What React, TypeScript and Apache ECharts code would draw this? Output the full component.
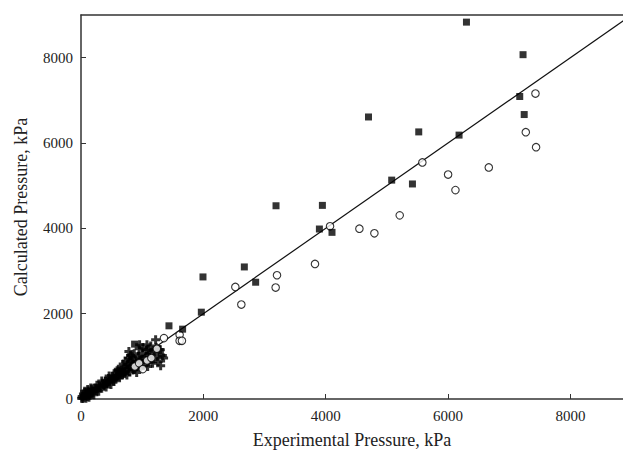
import React, { useEffect, useRef } from "react";
import * as echarts from "echarts";

const xTicks = [0, 2000, 4000, 6000, 8000];
const xMax = 8860;
const yMax = 9000;

// filled squares [experimental, calculated]
const squares: number[][] = [
  [876, 1286], [1438, 1715], [1661, 1637], [1967, 2035], [1994, 2861],
  [2670, 3095], [2855, 2737], [3188, 4529], [3897, 3984], [3946, 4538],
  [4103, 3906], [4700, 6610], [5079, 5130], [5418, 5040], [5521, 6260],
  [6180, 6185], [6301, 8833], [7172, 7090], [7226, 8070], [7245, 6667],
];

// open circles
const circles: number[][] = [
  [880, 760], [950, 840], [1010, 700], [1080, 900], [1150, 960], [1240, 1180],
  [1356, 1427], [1612, 1504], [1612, 1364], [1650, 1364],
  [2523, 2627], [2621, 2213], [3182, 2611], [3204, 2900], [3825, 3165],
  [4071, 4047], [4551, 3991], [4796, 3883], [5210, 4304], [5580, 5544],
  [6001, 5260], [6121, 4896], [6666, 5427], [7271, 6253], [7429, 7158],
  [7439, 5902],
];

// plus signs
const pluses: number[][] = [
  [10, 20], [20, 60], [30, 10], [40, 120], [50, 40], [60, 180], [70, 90],
  [80, 20], [90, 140], [100, 60], [110, 220], [120, 110], [130, 40],
  [140, 160], [150, 90], [160, 260], [170, 230], [180, 140], [200, 180],
  [210, 100], [230, 260], [250, 200], [260, 320], [270, 240], [290, 180],
  [300, 310], [320, 260], [340, 420], [350, 370], [370, 300], [380, 330],
  [400, 420], [410, 280], [420, 360], [440, 400], [450, 480], [460, 540],
  [470, 410], [490, 340], [500, 460], [520, 540], [530, 420], [540, 480],
  [560, 600], [570, 460], [580, 520], [590, 660], [600, 560], [610, 700],
  [620, 650], [630, 500], [640, 580], [660, 700], [670, 560], [680, 620],
  [690, 820], [700, 740], [710, 600], [720, 640], [730, 880], [740, 700],
  [750, 560], [760, 800], [770, 960], [780, 720], [783, 1114], [790, 640],
  [800, 860], [810, 1020], [820, 760], [827, 919], [840, 980], [850, 680],
  [860, 800], [870, 1060], [880, 700], [900, 880], [910, 620], [920, 760],
  [940, 1000], [950, 1180], [958, 919], [958, 1270], [970, 740], [980, 900],
  [1000, 1060], [1010, 1200], [1020, 780], [1040, 920], [1060, 1000],
  [1070, 1140], [1078, 1270], [1090, 760], [1100, 860], [1100, 1160],
  [1120, 980], [1140, 1240], [1150, 1060], [1170, 840], [1180, 940],
  [1200, 1120], [1220, 1387], [1230, 1200], [1250, 1000], [1260, 880],
  [1280, 1160], [1297, 1153], [1302, 779], [1330, 1020], [1350, 960],
];

const diagonal: number[][] = [[0, 0], [yMax, yMax]];

const plusPath = "path://M3,0h3v3h3v3h-3v3h-3v-3h-3v-3h3z";

const FONT = "Liberation Serif";
const TEXT = "#222";
const LINE = "#333";

export default function App() {
  const ref = useRef<HTMLDivElement>(null);
  useEffect(() => {
    if (!ref.current) return;
    const chart = echarts.init(ref.current, undefined, { renderer: "svg" });
    chart.setOption({
      animation: false,
      backgroundColor: "#fff",
      grid: { left: 81, top: 15, right: 0, bottom: 58 },
      xAxis: [
        {
          type: "value",
          min: xTicks[0],
          max: xMax,
          interval: 2000,
          name: "Experimental Pressure, kPa",
          nameLocation: "middle",
          nameGap: 32,
          nameTextStyle: { fontFamily: FONT, fontSize: 18, color: TEXT },
          axisLine: { show: true, lineStyle: { color: LINE, width: 1.5 } },
          axisTick: { show: true, inside: true, length: 5, lineStyle: { color: LINE } },
          axisLabel: {
            fontFamily: FONT, fontSize: 15, color: TEXT, margin: 9,
            showMaxLabel: false, formatter: (v: number) => String(v),
          },
          splitLine: { show: false },
        },
        {
          type: "value",
          position: "top",
          min: 0,
          max: xMax,
          axisLine: { show: true, onZero: false, lineStyle: { color: LINE, width: 1.5 } },
          axisTick: { show: false },
          axisLabel: { show: false },
          splitLine: { show: false },
        },
      ],
      yAxis: {
        type: "value",
        min: 0,
        max: yMax,
        interval: 2000,
        name: "Calculated Pressure, kPa",
        nameLocation: "middle",
        nameRotate: 90,
        nameGap: 51,
        nameTextStyle: { fontFamily: FONT, fontSize: 18, color: TEXT },
        axisLine: { show: true, lineStyle: { color: LINE, width: 1.5 } },
        axisTick: { show: true, inside: true, length: 5, lineStyle: { color: LINE } },
        axisLabel: {
          fontFamily: FONT, fontSize: 15, color: TEXT, margin: 8,
          showMaxLabel: false, formatter: (v: number) => String(v),
        },
        splitLine: { show: false },
      },
      series: [
        {
          type: "line",
          data: diagonal,
          symbol: "none",
          clip: true,
          lineStyle: { color: "#111", width: 1.2 },
          z: 1,
        },
        {
          type: "scatter",
          data: pluses,
          symbol: plusPath,
          symbolSize: 9,
          itemStyle: { color: "#000" },
          z: 2,
        },
        {
          type: "scatter",
          data: circles,
          symbol: "circle",
          symbolSize: 7.5,
          itemStyle: { color: "#fff", borderColor: "#000", borderWidth: 1.1 },
          z: 3,
        },
        {
          type: "scatter",
          data: squares,
          symbol: "rect",
          symbolSize: 7,
          itemStyle: { color: "#000" },
          z: 4,
        },
      ],
    });
    return () => chart.dispose();
  }, []);
  return (
    <div
      ref={ref}
      style={{ position: "fixed", left: 0, top: 0, width: 623, height: 457 }}
    />
  );
}
